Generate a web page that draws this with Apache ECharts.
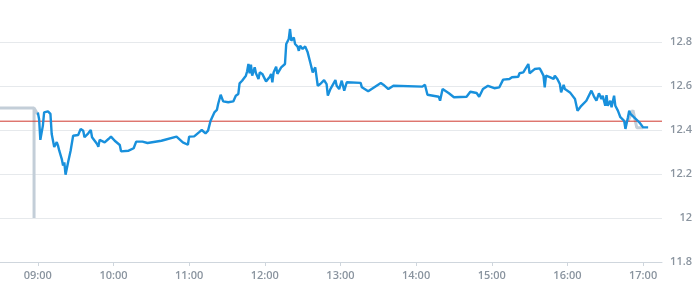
<!DOCTYPE html>
<html>
<head>
<meta charset="utf-8">
<script src="https://cdn.jsdelivr.net/npm/echarts@6/dist/echarts.min.js"></script>
<style>
html,body{margin:0;padding:0;background:#fff;}
#chart{width:695px;height:300px;}
</style>
</head>
<body>
<div id="chart"></div>
<script>
// Blue price line (time, value)
const priceTimes = [
 "09:00","09:01","09:02","09:04","09:05","09:08","09:10","09:11","09:13","09:15",
 "09:16","09:17","09:19","09:20","09:21","09:22","09:24","09:26","09:28","09:32",
 "09:34","09:36","09:37","09:40","09:42","09:43","09:47","09:48","09:49","09:53",
 "09:56","09:58","10:01","10:05","10:06","10:12","10:16","10:18","10:23","10:27",
 "10:38","10:50","10:55","10:59","11:00","11:04","11:08","11:10","11:13","11:15",
 "11:17","11:20","11:22","11:23","11:25","11:27","11:31","11:35","11:37","11:39",
 "11:40","11:42","11:45","11:46","11:47","11:48","11:49","11:50","11:52","11:53",
 "11:55","11:56","11:58","12:01","12:04","12:05","12:06","12:07","12:09","12:10",
 "12:13","12:16","12:17","12:19","12:20","12:21","12:23","12:24","12:26","12:27",
 "12:28","12:30","12:32","12:34","12:36","12:38","12:40","12:42","12:44","12:47",
 "12:49","12:50","12:52","12:56","12:57","12:59","13:01","13:03","13:05","13:16",
 "13:17","13:22","13:32","13:34","13:38","13:42","14:05","14:07","14:09","14:18",
 "14:19","14:21","14:26","14:30","14:40","14:43","14:48","14:50","14:53","14:57",
 "15:02","15:06","15:09","15:14","15:16","15:21","15:22","15:25","15:29","15:30",
 "15:34","15:38","15:39","15:41","15:42","15:43","15:46","15:49","15:50","15:52",
 "15:54","15:55","15:57","15:58","16:02","16:06","16:08","16:11","16:15","16:19",
 "16:21","16:22","16:23","16:25","16:27","16:28","16:30","16:31","16:32","16:34",
 "16:35","16:37","16:38","16:40","16:42","16:45","16:46","16:48","16:49","16:50",
 "16:57","17:00","17:04"
];
const priceValues = [
 12.48,12.45,12.355,12.42,12.48,12.485,12.473,12.382,12.323,12.345,
 12.329,12.306,12.268,12.238,12.253,12.197,12.253,12.306,12.374,12.377,
 12.405,12.397,12.367,12.385,12.40,12.367,12.336,12.324,12.355,12.344,
 12.359,12.37,12.351,12.332,12.303,12.306,12.317,12.347,12.347,12.341,
 12.351,12.37,12.344,12.333,12.37,12.371,12.39,12.40,12.385,12.397,
 12.442,12.48,12.491,12.518,12.56,12.53,12.526,12.53,12.556,12.564,
 12.612,12.624,12.647,12.667,12.70,12.658,12.697,12.647,12.685,12.658,
 12.632,12.662,12.655,12.621,12.642,12.655,12.617,12.662,12.688,12.655,
 12.685,12.70,12.791,12.814,12.859,12.806,12.821,12.791,12.779,12.76,
 12.783,12.768,12.78,12.753,12.708,12.662,12.685,12.601,12.609,12.627,
 12.609,12.556,12.586,12.627,12.601,12.586,12.624,12.579,12.617,12.614,
 12.594,12.576,12.614,12.606,12.586,12.601,12.597,12.606,12.56,12.551,
 12.533,12.586,12.567,12.549,12.551,12.574,12.568,12.551,12.586,12.601,
 12.59,12.594,12.629,12.632,12.64,12.642,12.658,12.662,12.70,12.658,
 12.677,12.68,12.67,12.647,12.594,12.647,12.64,12.632,12.647,12.632,
 12.609,12.571,12.605,12.586,12.571,12.541,12.488,12.51,12.533,12.579,
 12.553,12.559,12.533,12.567,12.541,12.556,12.51,12.559,12.51,12.533,
 12.503,12.556,12.51,12.488,12.458,12.442,12.405,12.458,12.488,12.473,
 12.435,12.412,12.412
];
// Grey line: only the parts that show outside the blue line
const greyTimes  = ["08:30","08:57","08:57","08:57","09:00",null,"16:48","16:52","16:55","17:00"];
const greyValues = [12.5,12.5,12.0,12.5,12.47,null,12.44,12.49,12.41,12.41];
// Reference (previous close) level
const refValue = 12.44;
// Axes
const xStart = "08:30", xEnd = "17:15";
const hourTicks = ["09:00","10:00","11:00","12:00","13:00","14:00","15:00","16:00","17:00"];
const yTicks = [11.8,12,12.2,12.4,12.6,12.8];

function toMin(s){ const p = s.split(":"); return (+p[0])*60 + (+p[1]); }
function fmt(m){ const h = Math.floor(m/60), mm = Math.round(m%60); return (h<10?"0":"")+h+":"+(mm<10?"0":"")+mm; }

const priceData = priceTimes.map((t,i)=>[toMin(t), priceValues[i]]);
const greyData = greyTimes.map((t,i)=> t===null ? [null,null] : [toMin(t), greyValues[i]]);
const refData = [[toMin(xStart), refValue],[toMin(xEnd), refValue]];
const hourVals = hourTicks.map(toMin);

const chart = echarts.init(document.getElementById('chart'), null, {renderer:'canvas'});
const labelColor = '#8a949f';
const refColor = '#d0392f';
chart.setOption({
  animation:false,
  backgroundColor:'#ffffff',
  grid:{left:0, right:30, top:20, bottom:38, containLabel:false},
  xAxis:{
    type:'value', min:toMin(xStart), max:toMin(xEnd),
    axisLine:{show:true, lineStyle:{color:'#cfd6dd', width:1}},
    axisTick:{show:true, length:4, lineStyle:{color:'#cfd6dd'}, customValues: hourVals},
    axisLabel:{color:labelColor, fontSize:11, fontWeight:600, fontFamily:'Open Sans', margin:8,
      customValues: hourVals, formatter:(v)=>fmt(v)},
    splitLine:{show:false}
  },
  yAxis:{
    type:'value', position:'right', min:11.8, max:12.9, interval:0.2,
    axisLine:{show:false}, axisTick:{show:false},
    axisLabel:{color:labelColor, fontSize:11, fontWeight:600, fontFamily:'Open Sans', align:'right', margin:30,
      customValues: yTicks, formatter:(v)=>String(+(+v).toFixed(2))},
    splitLine:{show:true, showMaxLine:false, lineStyle:{color:'#e6e9ec', width:1}}
  },
  series:[
    {type:'line', data:greyData, showSymbol:false, symbol:'none', connectNulls:false, silent:true,
     lineStyle:{color:'#c3ced8', width:3}, itemStyle:{color:'#c3ced8'}, z:2},
    {type:'line', data:refData, showSymbol:false, symbol:'none', silent:true,
     lineStyle:{color:refColor, width:1}, itemStyle:{color:refColor}, z:3},
    {type:'line', data:priceData, showSymbol:false, symbol:'none',
     lineStyle:{color:'#1890dc', width:2.4}, itemStyle:{color:'#1890dc'}, z:4}
  ]
});
</script>
</body>
</html>
